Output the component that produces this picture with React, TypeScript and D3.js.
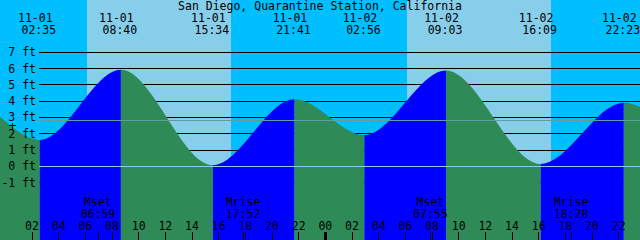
import React from "react";
import * as d3 from "d3";

const W = 640;
const H = 240;
const TITLE = "San Diego, Quarantine Station, California";

// Visible window
const windowStart = "10-31 23:36";
const windowEnd = "11-02 23:36";

// Tide extrema (shown)
const eventDates = ["11-01", "11-01", "11-01", "11-01", "11-02", "11-02", "11-02", "11-02"];
const eventTimes = ["02:35", "08:40", "15:34", "21:41", "02:56", "09:03", "16:09", "22:23"];
const eventHeights = [1.62, 5.93, 0.07, 4.12, 1.92, 5.89, 0.14, 3.9];

// Off-screen neighbouring extrema (shape the curve at the edges)
const edgeStamps = ["10-31 14:40", "10-31 20:50", "11-03 03:25", "11-03 09:35"];
const edgeHeights = [0.3, 4.3, 2.1, 5.8];

// Sun (day band) and moon events
const sunrise = ["11-01 06:08", "11-02 06:08"];
const sunset = ["11-01 16:56", "11-02 16:56"];
const moonNames = ["Mset", "Mrise", "Mset", "Mrise"];
const moonStamps = ["11-01 06:59", "11-01 17:52", "11-02 07:55", "11-02 18:28"];

// Height axis
const ftLevels = [7, 6, 5, 4, 3, 2, 1, 0, -1];
const meanLevel = 2.82;
const markLevel = 2.5;

const COL_NIGHT = "#00BFFF";
const COL_DAY = "#87CEEB";
const COL_RISE = "#0000FF";
const COL_FALL = "#2E8B57";
const FONT = "'DejaVu Sans Mono', monospace";
const FS = 11.5;

const parse = d3.utcParse("%m-%d %H:%M");

export default function App() {
  const x = d3.scaleUtc().domain([parse(windowStart)!, parse(windowEnd)!]).range([0, W]);
  const y = d3.scaleLinear().domain([-1, 7]).range([182.6, 52.3]);

  const pts = [
    ...edgeStamps.slice(0, 2).map((s, i) => ({ t: parse(s)!, h: edgeHeights[i] })),
    ...eventTimes.map((tm, i) => ({ t: parse(eventDates[i] + " " + tm)!, h: eventHeights[i] })),
    ...edgeStamps.slice(2).map((s, i) => ({ t: parse(s)!, h: edgeHeights[i + 2] })),
  ];

  const area = d3
    .area<{ t: Date; h: number }>()
    .x((d) => x(d.t))
    .y0(H)
    .y1((d) => y(d.h))
    .curve(d3.curveMonotoneX);

  const segs = d3.pairs(pts).map(([a, b]) => ({
    x0: x(a.t),
    x1: x(b.t),
    color: b.h > a.h ? COL_RISE : COL_FALL,
  }));

  const py = (v: number) => Math.floor(y(v)) + 0.5;
  const px = (v: number) => Math.floor(v) + 0.5;

  const hourTicks = x.ticks(d3.utcHour.every(2)!).filter((d) => x(d) > 15 && x(d) < W + 20);
  const fmtH = d3.utcFormat("%H");

  return (
    <div style={{ position: "fixed", left: 0, top: 0, width: W, height: H }}>
      <svg width={W} height={H} style={{ display: "block" }} fontFamily={FONT} fontSize={FS}>
        <defs>
          <clipPath id="water">
            <path d={area(pts) || ""} />
          </clipPath>
        </defs>
        <rect x={0} y={0} width={W} height={H} fill={COL_NIGHT} />
        {sunrise.map((s, i) => (
          <rect
            key={"d" + i}
            x={x(parse(s)!)}
            y={0}
            width={x(parse(sunset[i])!) - x(parse(s)!)}
            height={H}
            fill={COL_DAY}
            shapeRendering="crispEdges"
          />
        ))}
        {ftLevels.map((f) => (
          <line key={"l" + f} x1={39} x2={W} y1={py(f)} y2={py(f)} stroke="#000" strokeWidth={1} shapeRendering="crispEdges" />
        ))}
        <g clipPath="url(#water)">
          {segs.map((s, i) => (
            <rect key={"s" + i} x={s.x0} y={0} width={s.x1 - s.x0} height={H} fill={s.color} />
          ))}
        </g>
        <line x1={39} x2={W} y1={py(meanLevel)} y2={py(meanLevel)} stroke="#5F9EA0" strokeWidth={1} shapeRendering="crispEdges" />
        <line x1={39} x2={W} y1={py(0)} y2={py(0)} stroke={COL_DAY} strokeWidth={1} shapeRendering="crispEdges" />
        {ftLevels.map((f) => (
          <text key={"t" + f} x={36} y={y(f) + 4} textAnchor="end" fill="#000">
            {`${f} ft`}
          </text>
        ))}
        <g stroke="#000" strokeWidth={1} shapeRendering="crispEdges">
          <line x1={9} x2={16} y1={py(markLevel)} y2={py(markLevel)} />
          <line x1={12.5} x2={12.5} y1={py(markLevel) - 3} y2={py(markLevel) + 4} />
        </g>
        <text x={W / 2} y={10} textAnchor="middle" fill="#000">
          {TITLE}
        </text>
        {eventTimes.map((tm, i) => {
          const ex = x(parse(eventDates[i] + " " + tm)!);
          return (
            <g key={"e" + i} textAnchor="middle" fill="#000">
              <text x={ex - 4.5} y={22}>{eventDates[i]}</text>
              <text x={ex - 1} y={33.5}>{tm}</text>
            </g>
          );
        })}
        {moonStamps.map((s, i) => {
          const mx = x(parse(s)!);
          return (
            <g key={"m" + i}>
              <text x={mx - 0.5} y={206.3} textAnchor="middle" fill="#000">{moonNames[i]}</text>
              <text x={mx - 0.5} y={217.5} textAnchor="middle" fill="#000">{s.slice(6)}</text>
              <line x1={px(mx)} x2={px(mx)} y1={232} y2={H} stroke="#000" shapeRendering="crispEdges" />
            </g>
          );
        })}
        {hourTicks.map((d, i) => {
          const tx = x(d);
          const midnight = d.getUTCHours() === 0;
          return (
            <g key={"h" + i}>
              <text x={tx} y={230} textAnchor="middle" fill="#000">{fmtH(d)}</text>
              <rect
                x={Math.floor(tx) - (midnight ? 1 : 0)}
                y={232}
                width={midnight ? 3 : 1}
                height={H - 232}
                fill="#000"
                shapeRendering="crispEdges"
              />
            </g>
          );
        })}
      </svg>
    </div>
  );
}
